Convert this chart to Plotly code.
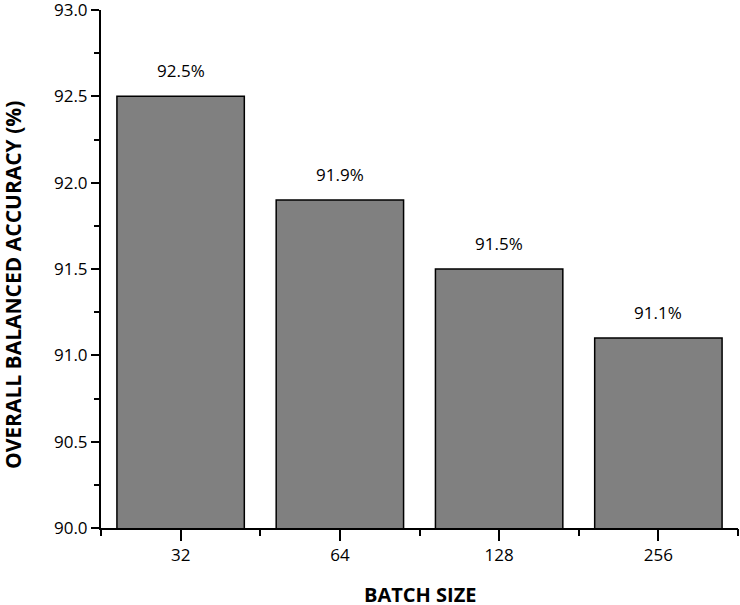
import plotly.graph_objects as go

batch_sizes = ['32', '64', '128', '256']
accuracy = [92.5, 91.9, 91.5, 91.1]
labels = ['92.5%', '91.9%', '91.5%', '91.1%']

fig = go.Figure()
fig.add_trace(go.Bar(
    x=batch_sizes, y=accuracy,
    marker=dict(color='#808080', line=dict(color='black', width=1.5)),
    hoverinfo='x+y',
))
# second axis only to draw the short ticks at category boundaries
fig.add_trace(go.Bar(x=batch_sizes, y=[None] * 4, xaxis='x2', showlegend=False,
                     hoverinfo='skip'))

# value labels sit a bit above each bar (x by category index, numeric strings
# would otherwise be read as indices)
for i, (a, t) in enumerate(zip(accuracy, labels)):
    fig.add_annotation(x=i, y=a, text=t, showarrow=False, yanchor='bottom',
                       yshift=12, font=dict(size=17, color='black'))

# axis titles as annotations so the margins stay fixed
fig.add_annotation(text='<b>OVERALL BALANCED ACCURACY (%)</b>', textangle=-90,
                   xref='paper', yref='paper', x=0, y=0.469, xshift=-88,
                   xanchor='center', yanchor='middle', showarrow=False,
                   font=dict(size=21, color='black'))
fig.add_annotation(text='<b>BATCH SIZE</b>',
                   xref='paper', yref='paper', x=0.5, y=0, yshift=-66,
                   xanchor='center', yanchor='middle', showarrow=False,
                   font=dict(size=20, color='black'))

fig.update_layout(
    width=740, height=605,
    margin=dict(l=101, r=2, t=10, b=77, autoexpand=False),
    plot_bgcolor='white', paper_bgcolor='white',
    font=dict(family='Open Sans, DejaVu Sans, sans-serif', size=17, color='black'),
    showlegend=False,
    bargap=0.2,
    xaxis=dict(
        type='category', automargin=False,
        showline=True, linecolor='black', linewidth=2,
        ticks='outside', ticklen=11, tickwidth=2, tickcolor='black',
        showgrid=False, zeroline=False,
    ),
    xaxis2=dict(
        type='category', overlaying='x', side='bottom', automargin=False,
        tickson='boundaries', ticks='outside', ticklen=7, tickwidth=2,
        tickcolor='black', showticklabels=False, showgrid=False,
        showline=False, zeroline=False,
    ),
    yaxis=dict(
        range=[90, 93], dtick=0.5, tickformat='.1f', automargin=False,
        showline=True, linecolor='black', linewidth=2,
        ticks='outside', ticklen=8, tickwidth=2, tickcolor='black',
        ticklabeloverflow='allow',
        minor=dict(dtick=0.25, ticks='outside', ticklen=5, tickwidth=2, tickcolor='black'),
        showgrid=False, zeroline=False,
    ),
)

fig.write_html('out.html', config={'displayModeBar': False},
               post_script="document.body.style.margin='0';")
